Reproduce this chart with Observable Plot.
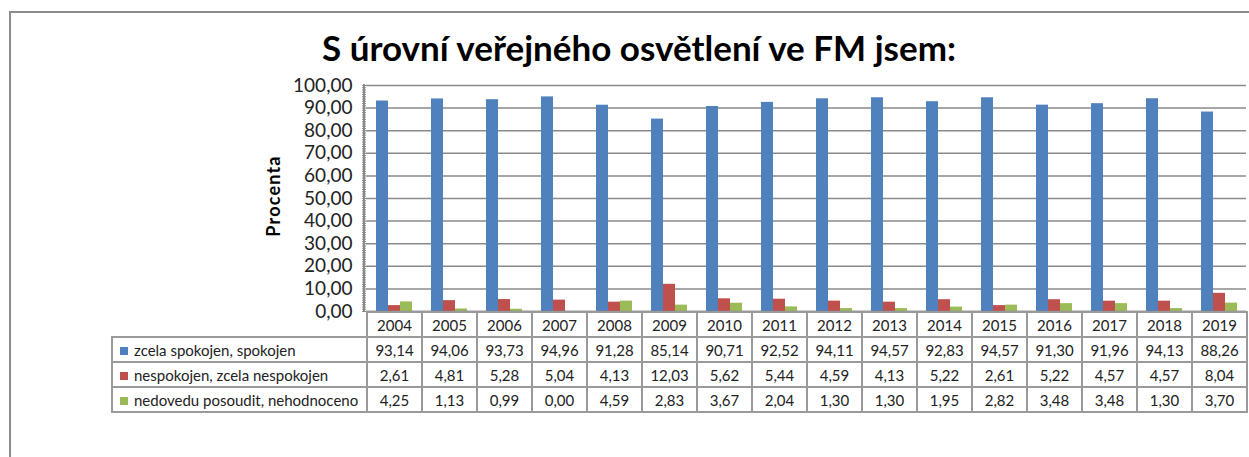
<!DOCTYPE html>
<html>
<head>
<meta charset="utf-8">
<script src="https://cdn.jsdelivr.net/npm/d3@7"></script>
<script src="https://cdn.jsdelivr.net/npm/@observablehq/plot@0.6"></script>
<style>
  html, body { margin: 0; padding: 0; background: #fff; overflow: hidden; }
  #wrap { position: relative; width: 1249px; height: 457px; overflow: hidden; font-family: Lato, "Open Sans", sans-serif; color: #222; }
  #frame { position: absolute; left: 9px; top: 11px; width: 1300px; height: 600px; border: 2px solid #8c8c8c; box-sizing: border-box; }
  #title { position: absolute; left: 0; width: 1278px; top: 26px; text-align: center; font-size: 35px; font-weight: bold; color: #000; white-space: nowrap; }
  #ylabel { position: absolute; left: 273px; top: 196px; transform: translate(-50%, -50%) rotate(-90deg); font-size: 18px; letter-spacing: 1.2px; font-weight: bold; color: #000; white-space: nowrap; }
  #yline { position: absolute; left: 363px; top: 84px; width: 0; height: 228px; border-left: 2px solid #8a8a8a; }
  #chart { position: absolute; left: 0; top: 0; }
  #tbl { position: absolute; left: 111px; top: 311px; border-collapse: collapse; table-layout: fixed; font-size: 15px; color: #222; }
  #tbl td { border: 2px solid #9a9a9a; height: 23px; padding: 0; text-align: center; white-space: nowrap; }
  #tbl td.name { text-align: left; padding-left: 7px; }
  #tbl td.blank { border: none; border-bottom: 2px solid #9a9a9a; }
  .sw { display: inline-block; width: 8px; height: 8px; margin-right: 6px; vertical-align: 1px; }
</style>
</head>
<body>
<div id="wrap">
  <div id="frame"></div>
  <div id="chart"></div>
  <div id="yline"></div>
  <div id="title">S úrovní veřejného osvětlení ve FM jsem:</div>
  <div id="ylabel">Procenta</div>
  <table id="tbl"></table>
</div>
<script>
const years = ["2004","2005","2006","2007","2008","2009","2010","2011","2012","2013","2014","2015","2016","2017","2018","2019"];
const seriesNames = ["zcela spokojen, spokojen", "nespokojen, zcela nespokojen", "nedovedu posoudit, nehodnoceno"];
const spokojen    = [93.14, 94.06, 93.73, 94.96, 91.28, 85.14, 90.71, 92.52, 94.11, 94.57, 92.83, 94.57, 91.30, 91.96, 94.13, 88.26];
const nespokojen  = [2.61, 4.81, 5.28, 5.04, 4.13, 12.03, 5.62, 5.44, 4.59, 4.13, 5.22, 2.61, 5.22, 4.57, 4.57, 8.04];
const nedovedu    = [4.25, 1.13, 0.99, 0.00, 4.59, 2.83, 3.67, 2.04, 1.30, 1.30, 1.95, 2.82, 3.48, 3.48, 1.30, 3.70];
const colors = ["#4F81BD", "#C0504D", "#9BBB59"];
const yTicks = [0, 10, 20, 30, 40, 50, 60, 70, 80, 90, 100];

const seriesValues = [spokojen, nespokojen, nedovedu];
const data = [];
years.forEach((y, i) => seriesValues.forEach((vals, s) => data.push({year: y, series: seriesNames[s], value: vals[i]})));

const fmt = d => d.toFixed(2).replace(".", ",");

const chart = Plot.plot({
  width: 1249,
  height: 457,
  marginLeft: 365,
  marginRight: 3,
  marginTop: 85,
  marginBottom: 146,
  style: { fontFamily: "Lato, 'Open Sans', sans-serif", fontSize: "19px", color: "#222", background: "transparent" },
  fx: { domain: years, padding: 0, axis: null },
  x: { domain: seriesNames, paddingInner: 0, paddingOuter: 0.7, axis: null },
  y: { domain: [0, 100], axis: null },
  color: { domain: seriesNames, range: colors },
  marks: [
    Plot.gridY(yTicks, { stroke: "#8a8a8a", strokeOpacity: 1, strokeWidth: 1.5 }),
    Plot.axisY(d3.range(0, 101, 1), { tickSize: 4, text: null, label: null, stroke: "#8a8a8a", strokeWidth: 1 }),
    Plot.axisY(yTicks, { tickSize: 0, tickPadding: 14, tickFormat: fmt, fontSize: 19, label: null }),
    Plot.barY(data, { fx: "year", x: "series", y: "value", fill: "series" }),
    Plot.ruleY([0], { stroke: "#8a8a8a", strokeWidth: 1.5 })
  ]
});
document.getElementById("chart").appendChild(chart);

// data table
const tbl = d3.select("#tbl");
const cg = tbl.append("colgroup");
cg.append("col").style("width", "255px");
years.forEach(() => cg.append("col").style("width", "55px"));
const hr = tbl.append("tr");
hr.append("td").attr("class", "blank");
years.forEach(y => hr.append("td").text(y));
seriesNames.forEach((name, s) => {
  const tr = tbl.append("tr");
  const td = tr.append("td").attr("class", "name");
  td.append("span").attr("class", "sw").style("background", colors[s]);
  td.append("span").text(name);
  seriesValues[s].forEach(v => tr.append("td").text(fmt(v)));
});
</script>
</body>
</html>
